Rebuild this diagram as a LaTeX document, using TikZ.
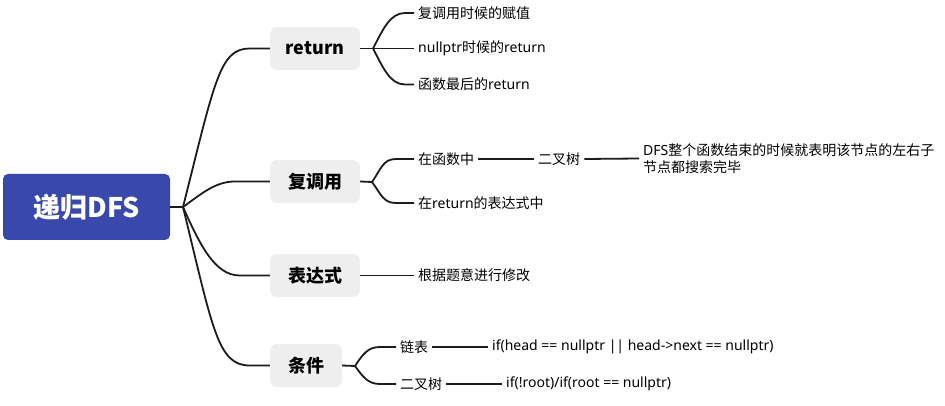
\documentclass[tikz,border=0pt]{standalone}
\usepackage{fontspec}
\setmainfont{Noto Sans}
\newfontfamily\cjk{Noto Sans CJK SC}
\newcommand\zhs[1]{{\cjk #1}}
\definecolor{rootblue}{HTML}{3949AB}
\definecolor{boxgray}{HTML}{EEEEEE}
\definecolor{linec}{HTML}{1C1C1C}
\begin{document}
\begin{tikzpicture}[x=1pt,y=-1pt,
  rootbox/.style={fill=rootblue, rounded corners=5pt, minimum width=167pt, minimum height=66pt, inner sep=0pt, text=white, font=\cjk\bfseries\fontsize{27}{30}\selectfont},
  mainbox/.style={fill=boxgray, rounded corners=7pt, minimum height=43pt, inner sep=0pt, font=\cjk\bfseries\fontsize{18}{20}\selectfont},
  leaf/.style={anchor=west, inner xsep=4pt, inner ysep=2pt, font=\fontsize{14}{17}\selectfont},
  conn/.style={draw=linec, line width=1.8pt}]
\useasboundingbox (0,0) rectangle (945,406);

% root and main topics
\node[rootbox] (root) at (86.5,207) {递归DFS};
\node[mainbox, minimum width=90pt] (ret) at (315,48.5) {return};
\node[mainbox, minimum width=90pt] (fu) at (315,181.5) {复调用};
\node[mainbox, minimum width=90pt] (bd) at (315,275.5) {表达式};
\node[mainbox, minimum width=72pt] (tj) at (306,365.5) {条件};

% junctions
\coordinate (j0) at (183,207);
\coordinate (jr) at (373,48.5);
\coordinate (jf) at (372,182);
\coordinate (jt) at (355,366);

% leaves of return
\node[leaf] (r1) at (414,13) {\zhs{复调用时候的赋值}};
\node[leaf] (r2) at (414,48.5) {nullptr\zhs{时候的}return};
\node[leaf] (r3) at (414,84.5) {\zhs{函数最后的}return};

% leaves of 复调用
\node[leaf] (f1) at (414,159) {\zhs{在函数中}};
\node[leaf] (f1b) at (534,159) {\zhs{二叉树}};
\node[leaf, align=left] (f1c) at (639,158.5) {DFS\zhs{整个函数结束的时候就表明该节点的左右子}\\\zhs{节点都搜索完毕}};
\node[leaf] (f2) at (414,203) {\zhs{在}return\zhs{的表达式中}};

% leaf of 表达式
\node[leaf] (b1) at (414,275.5) {\zhs{根据题意进行修改}};

% leaves of 条件
\node[leaf] (t1) at (396,347) {\zhs{链表}};
\node[leaf] (t1b) at (488,347) {if(head == nullptr || head->next == nullptr)};
\node[leaf] (t2) at (396,384) {\zhs{二叉树}};
\node[leaf] (t2b) at (502,384) {if(!root)/if(root == nullptr)};

% root connectors
\draw[conn] (root.east) -- (j0);
\draw[conn] (j0) .. controls +(32,-127) and +(-30,0) .. ([xshift=-20pt]ret.west) -- (ret.west);
\draw[conn] (j0) .. controls +(17,-12) and +(-20,0) .. ([xshift=-35pt]fu.west) -- (fu.west);
\draw[conn] (j0) .. controls +(17,38) and +(-25,0) .. ([xshift=-30pt]bd.west) -- (bd.west);
\draw[conn] (j0) .. controls +(30,123) and +(-32,0) .. ([xshift=-20pt]tj.west) -- (tj.west);

% return
\draw[conn] (ret.east) -- (jr);
\draw[conn] (jr) .. controls +(10,-19) and +(-15,0) .. ([xshift=-9pt]r1.west) -- (r1.west);
\draw[conn] (jr) -- (r2.west);
\draw[conn] (jr) .. controls +(10,19) and +(-15,0) .. ([xshift=-9pt]r3.west) -- (r3.west);

% 复调用
\draw[conn] (fu.east) -- (jf);
\draw[conn] (jf) .. controls +(9,-13) and +(-13,0) .. ([xshift=-18pt]f1.west) -- (f1.west);
\draw[conn] (jf) .. controls +(9,12) and +(-13,0) .. ([xshift=-18pt]f2.west) -- (f2.west);
\draw[conn] (f1.east) -- (f1b.west);
\draw[conn] (f1b.east) -- (f1c.west);

% 表达式
\draw[conn] (bd.east) -- (b1.west);

% 条件
\draw[conn] (tj.east) -- (jt);
\draw[conn] (jt) .. controls +(8,-12) and +(-12,0) .. ([xshift=-16pt]t1.west) -- (t1.west);
\draw[conn] (jt) .. controls +(8,11) and +(-12,0) .. ([xshift=-16pt]t2.west) -- (t2.west);
\draw[conn] (t1.east) -- (t1b.west);
\draw[conn] (t2.east) -- (t2b.west);
\end{tikzpicture}
\end{document}
